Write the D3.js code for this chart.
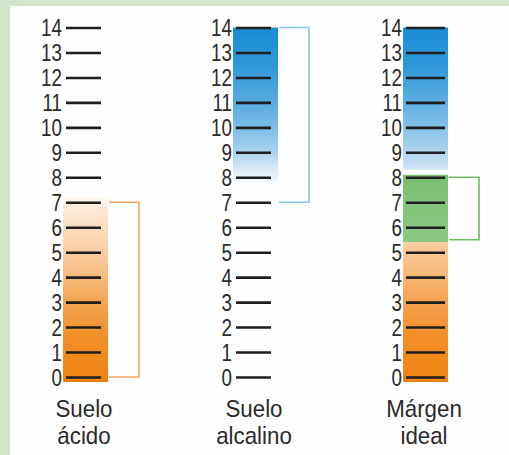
<!DOCTYPE html>
<html>
<head>
<meta charset="utf-8">
<script src="https://cdn.jsdelivr.net/npm/d3@7"></script>
<style>
  html, body { margin: 0; padding: 0; background: #fff; }
  svg { display: block; }
  text { font-family: "Liberation Sans", Arial, sans-serif; fill: #2a2a2a; }
</style>
</head>
<body>
<svg id="chart" width="509" height="455"></svg>
<script>
// ---- data ----
const categories = ["Suelo ácido", "Suelo alcalino", "Márgen ideal"];
const tickValues = [0,1,2,3,4,5,6,7,8,9,10,11,12,13,14];
// bracketed range per column [from, to]
const rangeFrom = [0, 7, 5.5];
const rangeTo   = [7, 14, 8];
// coloured band segments per column: [column, from, to, kind]
const segCol  = [0, 1, 2, 2, 2];
const segFrom = [0, 7.8, 8.3, 5.4, 0];
const segTo   = [7.2, 14, 14, 8.1, 5.4];
const segKind = ["acidFade", "alkFade", "alkIdeal", "green", "acidIdeal"];

// ---- styles ----
const W = 509, H = 455;
const svg = d3.select("#chart");
const defs = svg.append("defs");

const y = d3.scaleLinear().domain([0, 14]).range([377, 27.5]);
const colX = d3.scalePoint().domain(categories).range([63, 403]);
const barW = 45;

const gradStops = {
  acidFade: [[0, "#ef8312"], [1.5, "#f18e24"], [3, "#f4a452"], [4.5, "#f8c490"], [5.8, "#fbdabb"], [6.7, "#fde8d6"], [7.2, "#fffaf4"]],
  alkFade: [[14, "#1a8cd4"], [12.5, "#2f97d8"], [11, "#57abe0"], [10, "#7dbde6"], [9, "#a9d2ee"], [8.4, "#d4e7f5"], [7.8, "#f5f9fd"]],
  alkIdeal: [[14, "#1a8dd5"], [12.5, "#2e97d9"], [11, "#5eafe2"], [10, "#86c1e8"], [9, "#b0d5ef"], [8.3, "#d3e6f4"]],
  green: [[8.1, "#79be72"], [7, "#84c37c"], [5.4, "#8cc783"]],
  acidIdeal: [[5.4, "#fbcd9f"], [4.3, "#f8bd80"], [3, "#f5a150"], [1.5, "#f28d25"], [0, "#ef8414"]]
};
const bracketColor = ["#f5a461", "#86c8de", "#68bd5c"];
const bgGreen = "#d3e5cb";

// background
svg.append("rect").attr("width", W).attr("height", H).attr("fill", bgGreen);
svg.append("rect").attr("x", 10).attr("y", 6).attr("width", W - 10).attr("height", H - 6).attr("fill", "#fefefe");

// gradients
Object.entries(gradStops).forEach(([key, stops]) => {
  const g = defs.append("linearGradient").attr("id", "g-" + key)
    .attr("gradientUnits", "userSpaceOnUse")
    .attr("x1", 0).attr("x2", 0).attr("y1", y(0)).attr("y2", y(14));
  stops.slice().sort((a, b) => a[0] - b[0]).forEach(s => {
    g.append("stop").attr("offset", s[0] / 14).attr("stop-color", s[1]);
  });
});

// bands
segCol.forEach((c, i) => {
  const x0 = colX(categories[c]);
  const top = y(segTo[i]);
  let bottom = y(segFrom[i]);
  if (segFrom[i] === 0) bottom += 5;
  svg.append("rect")
    .attr("x", x0).attr("y", top)
    .attr("width", barW).attr("height", bottom - top)
    .attr("fill", "url(#g-" + segKind[i] + ")");
});

// axes (ticks + labels)
categories.forEach((cat, c) => {
  const x0 = colX(cat);
  const axis = d3.axisLeft(y).tickValues(tickValues).tickSize(0).tickPadding(0).tickFormat(d3.format("d"));
  const g = svg.append("g").attr("transform", `translate(${x0 - 1},0)`).call(axis);
  g.select(".domain").remove();
  g.selectAll("text").attr("font-size", 23.5).attr("x", 0).attr("dy", "0.36em")
    .attr("transform", "scale(0.8,1)")
    .style("font-family", '"Liberation Sans", Arial, sans-serif').attr("fill", "#2a2a2a");
  g.selectAll(".tick").append("line")
    .attr("x1", 4).attr("x2", c === 2 ? 43 : 39)
    .attr("stroke", "#1e1e1e").attr("stroke-width", 2.6);

  // bracket
  const bx1 = x0 + barW + 1, bx2 = x0 + barW + 31;
  const yt = y(rangeTo[c]), yb = y(rangeFrom[c]);
  svg.append("path")
    .attr("d", `M${bx1},${yt}H${bx2}V${yb}H${bx1}`)
    .attr("fill", "none").attr("stroke", bracketColor[c]).attr("stroke-width", 1.6);

  // category label (two lines)
  const words = cat.split(" ");
  words.forEach((w, k) => {
    svg.append("g").attr("transform", `translate(${x0 + 21},${417 + k * 27}) scale(0.93,1)`)
      .append("text").attr("text-anchor", "middle").attr("font-size", 24).text(w);
  });
});
</script>
</body>
</html>
